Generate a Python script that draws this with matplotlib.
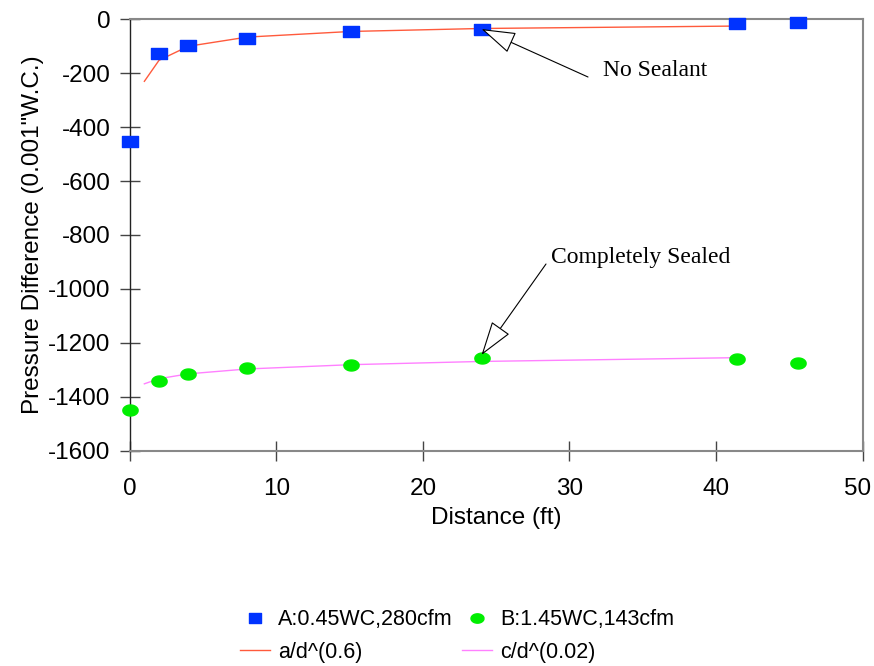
import matplotlib
matplotlib.use("Agg")
import matplotlib.pyplot as plt
from matplotlib.path import Path
from matplotlib.transforms import ScaledTranslation
import numpy as np

# Data
dist_a = [0.0, 2.0, 4.0, 8.0, 15.1, 24.0, 41.4, 45.6]
press_a = [-450, -125, -97, -71, -43, -36, -15, -11]
dist_b = [0.0, 2.0, 4.0, 8.0, 15.1, 24.0, 41.4, 45.6]
press_b = [-1450, -1342, -1316, -1295, -1284, -1257, -1260, -1275]

fit_x = [1.0, 2.0, 4.0, 8.0, 15.1, 24.0, 41.4]
fit_a = [-230, -152, -100, -66, -45, -34, -25]
fit_c = [-1352, -1333, -1315, -1297, -1281, -1269, -1255]

label_a = "A:0.45WC,280cfm"
label_b = "B:1.45WC,143cfm"
label_fa = "a/d^(0.6)"
label_fc = "c/d^(0.02)"

x_ticks = [0, 10, 20, 30, 40, 50]
y_ticks = [0, -200, -400, -600, -800, -1000, -1200, -1400, -1600]

sans = ["Liberation Sans", "DejaVu Sans"]
serif = ["Liberation Serif", "DejaVu Serif"]
plt.rcParams["font.family"] = sans
plt.rcParams["axes.unicode_minus"] = False

W, H = 874, 666
fig = plt.figure(figsize=(W / 100, H / 100), dpi=100)
ax = fig.add_axes([0.1484, 0.3233, 0.987 - 0.1484, 0.971 - 0.3233])

rect = Path([(-1, -0.72), (1, -0.72), (1, 0.72), (-1, 0.72), (-1, -0.72)],
            [Path.MOVETO, Path.LINETO, Path.LINETO, Path.LINETO, Path.CLOSEPOLY])
t = np.linspace(0, 2 * np.pi, 40)
ell = Path(np.column_stack([np.cos(t), 0.72 * np.sin(t)]))

blue = "#0033ff"
green = "#00ee00"
red = "#ff5a3c"
pink = "#ff80ff"

ax.plot(fit_x, fit_a, color=red, lw=1.0, label=label_fa, zorder=2)
ax.plot(fit_x, fit_c, color=pink, lw=1.0, label=label_fc, zorder=2)
ax.plot(dist_a, press_a, ls="none", marker=rect, ms=11, color=blue,
        mec=blue, label=label_a, zorder=3, clip_on=False)
ax.plot(dist_b, press_b, ls="none", marker=ell, ms=11, color=green,
        mec=green, label=label_b, zorder=3, clip_on=False)

ax.set_xlim(0, 50)
ax.set_ylim(-1600, 0)
ax.set_xticks(x_ticks)
ax.set_yticks(y_ticks)
ax.tick_params(direction="inout", length=14, width=1, labelsize=17.5,
               color="#444444")
ax.tick_params(axis="x", pad=12.5)
ax.tick_params(axis="y", pad=7)
for s in ["top", "right", "bottom"]:
    ax.spines[s].set_color("#888888")
    ax.spines[s].set_linewidth(1.5)
ax.spines["left"].set_color("#222222")
ax.spines["left"].set_linewidth(1.0)

# shift the last x tick label left so it fits in the figure
fig.canvas.draw()
lbls = ax.get_xticklabels()
lbls[-1].set_transform(lbls[-1].get_transform() +
                       ScaledTranslation(-5 / 100, 0, fig.dpi_scale_trans))

ax.set_xlabel("Distance (ft)", fontsize=17.5, labelpad=5)
ax.set_ylabel("Pressure Difference (0.001\"W.C.)", fontsize=17.5, labelpad=3)

arrow = dict(arrowstyle="-|>,head_length=2.2,head_width=0.7", mutation_scale=10,
             fc="white", ec="black", lw=0.8, shrinkA=0, shrinkB=0)
# No Sealant
ax.annotate("", xy=(24.0, -36), xycoords="data",
            xytext=(588, H - 77), textcoords="figure pixels",
            arrowprops=arrow, annotation_clip=False)
fig.text(603 / W, 1 - 70 / H, "No Sealant", fontsize=17, family=serif,
         ha="left", va="center")
# Completely Sealed
ax.annotate("", xy=(24.0, -1245), xycoords="data",
            xytext=(546, H - 264), textcoords="figure pixels",
            arrowprops=arrow, annotation_clip=False)
fig.text(551 / W, 1 - 258 / H, "Completely Sealed", fontsize=17, family=serif,
         ha="left", va="center")

handles, labels = ax.get_legend_handles_labels()
order = [2, 0, 3, 1]
leg = fig.legend([handles[i] for i in order], [labels[i] for i in order],
                 ncol=2, loc="center", bbox_to_anchor=(457 / W, 1 - 636 / H),
                 frameon=False, fontsize=15.5, handlelength=1.4,
                 columnspacing=0.45, labelspacing=0.55, handletextpad=0.37,
                 markerscale=0.85)

fig.savefig("out.png", dpi=100)
